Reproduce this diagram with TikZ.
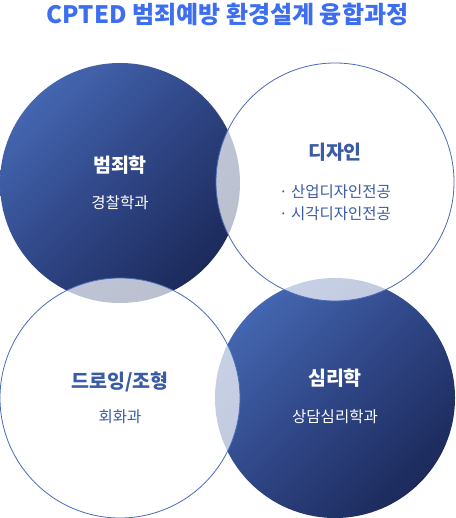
\documentclass[tikz,border=0pt]{standalone}
\usepackage{fontspec}
\setmainfont{Noto Sans CJK KR}
\usetikzlibrary{shadings}
\definecolor{titleblue}{HTML}{3D6EF0}
\definecolor{gradlight}{HTML}{4466B0}
\definecolor{gradmid}{HTML}{2F4585}
\definecolor{graddark}{HTML}{1C2A5B}
\definecolor{txtblue}{HTML}{3B5BA5}
\definecolor{ringblue}{HTML}{4A6CB8}
\tikzset{
  solidcircle/.style={top color=gradlight, bottom color=graddark, middle color=gradmid, shading angle=45},
  ringcircle/.style={draw=ringblue, line width=0.8pt, fill=white, fill opacity=0.7},
  headw/.style={text=white, font=\bfseries\fontsize{19.5}{22}\selectfont, inner sep=0pt},
  subw/.style={text=white, font=\fontsize{15.5}{18}\selectfont, inner sep=0pt},
  headb/.style={text=txtblue, font=\bfseries\fontsize{19.5}{22}\selectfont, inner sep=0pt},
  subb/.style={text=txtblue, font=\fontsize{15.5}{18}\selectfont, inner sep=0pt},
}
\begin{document}
\begin{tikzpicture}[x=1pt,y=-1pt]
\useasboundingbox (0,0) rectangle (455,518);
% filled circles
\shade[solidcircle] (120,183) circle (120);
\shade[solidcircle] (335,398) circle (120);
% outline circles
\path[ringcircle] (335,182) circle (119);
\path[ringcircle] (120,398) circle (120);
% title
\node[text=titleblue, font=\bfseries\fontsize{24}{27}\selectfont, inner sep=0pt] (title) at (227.5,14) {CPTED 범죄예방 환경설계 융합과정};
% texts
\node[headw] (crim) at (120,165) {범죄학};
\node[subw] (police) at (120,203) {경찰학과};
\node[headb] (design) at (335,152) {디자인};
\node[subb] (ind) at (335,192) {· 산업디자인전공};
\node[subb] (vis) at (335,214) {· 시각디자인전공};
\node[headb] (draw) at (120,382) {드로잉/조형};
\node[subb] (paint) at (120,417) {회화과};
\node[headw] (psy) at (335,378) {심리학};
\node[subw] (couns) at (335,417) {상담심리학과};
\end{tikzpicture}
\end{document}
